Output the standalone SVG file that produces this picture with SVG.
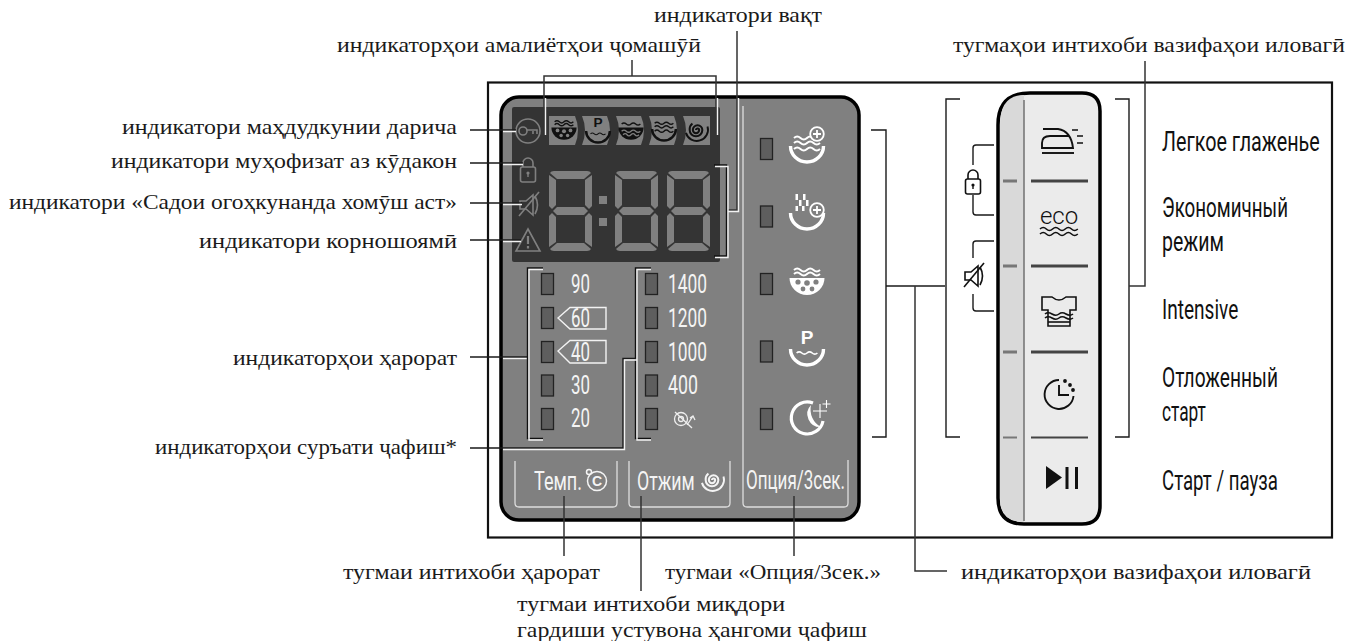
<svg xmlns="http://www.w3.org/2000/svg" xmlns:xlink="http://www.w3.org/1999/xlink" width="1350" height="641" viewBox="0 0 1350 641">
<style>
.s{font-family:"Liberation Serif","DejaVu Serif",serif;font-size:22px;fill:#1a1a1a}
.c{font-family:"Roboto","Liberation Sans",sans-serif;font-size:27px;fill:#111}
.p{font-family:"Roboto","Liberation Sans",sans-serif;font-size:25px;fill:#f4f4f4}
.k{fill:none;stroke:#1a1a1a;stroke-width:1.4}
.g{fill:none;stroke:#333;stroke-width:1.5}
.w{fill:none;stroke:#f2f2f2;stroke-width:1.4}
.d{fill:none;stroke:#111;stroke-width:1.4}
.led{fill:#5e5e5e;stroke:#222;stroke-width:1.3}
.btn{fill:none;stroke:#ddd;stroke-width:1.3}
.seg{fill:#808080}
.ic{fill:none;stroke:#808080;stroke-width:1.6}
.sep{stroke:#444;stroke-width:3}
.sepl{stroke:#777;stroke-width:3}
.t{fill:none;stroke:#111;stroke-width:1.6}
</style>
<defs>
<g id="digit" class="seg">
<path d="M5,0H38Q41,0 42,2L35,8H8L1,2Q2,0 5,0Z"/>
<path d="M0,4L7,9V34L3,38L0,35Z"/>
<path d="M43,4V35L40,38L36,34V9Z"/>
<path d="M4,40L8,36H35L39,40L35,44H8Z"/>
<path d="M0,45L3,42L7,46V71L0,76Z"/>
<path d="M43,45V76L36,71V46L40,42Z"/>
<path d="M8,72H35L42,78Q41,80 38,80H5Q2,80 1,78Z"/>
</g>
<path id="arc" d="M-16.500,0A16.500,16 0 0 0 16.500,0" fill="none" stroke="currentColor" stroke-width="3.400"/>
<path id="wave" d="M-13,0q3.200,-3 6.500,0t6.500,0t6.500,0t6.500,0" fill="none" stroke="currentColor" stroke-width="2"/>
<g id="i-dots">
<path d="M-17.500,-2A17.500,17 0 0 0 17.500,-2Z" fill="currentColor"/>
<use xlink:href="#wave" y="-6"/><use xlink:href="#wave" y="-10"/>
<g fill="#808080"><circle cx="-9" cy="2" r="2.600"/><circle cx="0" cy="3" r="2.800"/><circle cx="9" cy="2" r="2.600"/><circle cx="-4" cy="9" r="2.400"/><circle cx="5" cy="9" r="2.400"/></g>
</g>
<g id="i-p">
<use xlink:href="#arc"/>
<text x="0" y="-5" text-anchor="middle" font-family="Liberation Sans,sans-serif" font-weight="bold" font-size="19" fill="currentColor">P</text>
<use xlink:href="#wave" y="5" transform="scale(.8)"/>
</g>
<g id="i-wfill">
<path d="M-17.500,-2A17.500,17 0 0 0 17.500,-2Z" fill="currentColor"/>
<use xlink:href="#wave" y="-7"/>
<path d="M-13,3q3.200,-3 6.500,0t6.500,0t6.500,0t6.500,0" fill="none" stroke="#808080" stroke-width="1.800"/>
<path d="M-11,8q3,-3 5.500,0t5.500,0t5.500,0t5.500,0" fill="none" stroke="#808080" stroke-width="1.800"/>
</g>
<g id="i-wline">
<use xlink:href="#arc"/>
<use xlink:href="#wave" y="-8"/><use xlink:href="#wave" y="-3"/><use xlink:href="#wave" y="3"/>
</g>
<g id="i-spiral" fill="none" stroke="currentColor">
<path d="M0,0A2.200,2.200 0 0 1 4.400,0A4.400,4.400 0 0 1 -4.400,0A6.600,6.600 0 0 1 8.800,0A8.800,8.800 0 0 1 -8.800,0A10.500,10.500 0 0 1 -5,-9" stroke-width="2.800"/>
<path d="M-14,4A15,15 0 0 0 16,-5" stroke-width="2.600"/>
</g>
<g id="i-plus"><circle r="6.800" fill="#808080" stroke="#fff" stroke-width="1.800"/><path d="M-4,0H4M0,-4V4" stroke="#fff" stroke-width="1.800"/></g>
<g id="i-mute" fill="none" stroke="currentColor" stroke-width="1.600">
<path d="M-9,-4H-3L4,-10V10L-3,4H-9Z"/><path d="M-10,11L10,-13"/><path d="M6,-9Q11,0 6,9"/>
</g>
<g id="i-lock" fill="none" stroke="currentColor" stroke-width="1.600">
<rect x="-7.500" y="-4" width="15" height="15" rx="2"/><path d="M-5,-4V-8A5,5 0 0 1 5,-8V-4"/>
<circle cy="2" r="1.600" fill="currentColor" stroke="none"/><path d="M0,2V6" stroke-width="1.400"/>
</g>
</defs>
<rect width="1350" height="641" fill="#fff"/>
<rect id="frame" x="488" y="82.500" width="844" height="455" fill="none" stroke="#111" stroke-width="2.200"/>

<g id="panel">
<rect x="501" y="97" width="358" height="423" rx="18" fill="#808080" stroke="#000" stroke-width="3.500"/>
</g>
<g id="display">
<rect x="512" y="107" width="208" height="155" rx="2" fill="#343434"/>
<g class="seg">
<path d="M549,116H575Q581,130 575,145H549Z"/>
<path d="M582,116H607Q613,130 607,145H582Q588,130 582,116Z"/>
<path d="M616,116H641Q647,130 641,145H616Q622,130 616,116Z"/>
<path d="M649,116H674Q680,130 674,145H649Q655,130 649,116Z"/>
<path d="M683,116H710V145H683Q689,130 683,116Z"/>
</g>
<use xlink:href="#i-dots" transform="translate(564,129) scale(.72)" color="#111"/>
<use xlink:href="#i-p" transform="translate(598,131) scale(.72)" color="#111"/>
<use xlink:href="#i-wfill" transform="translate(631,129) scale(.72)" color="#111"/>
<use xlink:href="#i-wline" transform="translate(664,129) scale(.72)" color="#111"/>
<use xlink:href="#i-spiral" transform="translate(696,130) scale(.72)" color="#111"/>
<use xlink:href="#digit" x="549" y="171"/>
<use xlink:href="#digit" x="615" y="171"/>
<use xlink:href="#digit" x="667" y="171"/>
<rect class="seg" x="599" y="196" width="8" height="8"/>
<rect class="seg" x="599" y="218" width="8" height="8"/>
</g>
<g id="icon-key" class="ic">
<circle cx="528" cy="131" r="12"/><circle cx="523" cy="131" r="4"/><path d="M527,130H537V134M533,131V134"/>
</g>
<use id="icon-lock" xlink:href="#i-lock" transform="translate(528,171)" color="#808080"/>
<use id="icon-mute" xlink:href="#i-mute" transform="translate(529,205)" color="#808080"/>
<g id="icon-warn" class="ic">
<path d="M528,229L540,251H516Z"/><path d="M528,236V244M528,246V248.500" stroke-width="2.200"/>
</g>

<g id="temp-leds">
<rect class="led" x="541.500" y="273.500" width="12" height="21"/>
<rect class="led" x="541.500" y="307.500" width="12" height="21"/>
<rect class="led" x="541.500" y="341.500" width="12" height="21"/>
<rect class="led" x="541.500" y="375" width="12" height="21"/>
<rect class="led" x="541.500" y="408.500" width="12" height="21"/>
<text class="p" x="571" y="293" textLength="19" lengthAdjust="spacingAndGlyphs">90</text>
<path d="M558,318L570,307.500H606V329H570Z" class="w"/>
<text class="p" x="571" y="327" textLength="19" lengthAdjust="spacingAndGlyphs">60</text>
<path d="M558,351L570,340.500H606V363H570Z" class="w"/>
<text class="p" x="571" y="361" textLength="19" lengthAdjust="spacingAndGlyphs">40</text>
<text class="p" x="571" y="394" textLength="19" lengthAdjust="spacingAndGlyphs">30</text>
<text class="p" x="571" y="427" textLength="19" lengthAdjust="spacingAndGlyphs">20</text>
</g>
<g id="spin-leds">
<rect class="led" x="645.500" y="273.500" width="12" height="21"/>
<rect class="led" x="645.500" y="307.500" width="12" height="21"/>
<rect class="led" x="645.500" y="341.500" width="12" height="21"/>
<rect class="led" x="645.500" y="375" width="12" height="21"/>
<rect class="led" x="645.500" y="408.500" width="12" height="21"/>
<text class="p" x="668" y="293" textLength="39" lengthAdjust="spacingAndGlyphs">1400</text>
<text class="p" x="668" y="327" textLength="39" lengthAdjust="spacingAndGlyphs">1200</text>
<text class="p" x="668" y="361" textLength="39" lengthAdjust="spacingAndGlyphs">1000</text>
<text class="p" x="668" y="394" textLength="30" lengthAdjust="spacingAndGlyphs">400</text>
<g fill="none" stroke="#eee" stroke-width="1.300">
<circle cx="681" cy="419" r="6.500"/><circle cx="681" cy="419" r="2.500"/><path d="M675,412L692,428M687,425L693,416M690,418L693,416L695,420"/>
</g>
</g>
<g id="option-leds">
<rect class="led" x="760.500" y="138.500" width="12" height="21"/>
<rect class="led" x="760.500" y="206" width="12" height="21"/>
<rect class="led" x="760.500" y="273.500" width="12" height="21"/>
<rect class="led" x="760.500" y="341" width="12" height="21"/>
<rect class="led" x="760.500" y="408.500" width="12" height="21"/>
<g id="opt-icon-1"><use xlink:href="#i-wline" transform="translate(807,146)" color="#fff"/><use xlink:href="#i-plus" x="817" y="134"/></g>
<g id="opt-icon-2"><use xlink:href="#arc" x="807" y="213" color="#fff"/>
<g fill="#fff"><rect x="795.500" y="194" width="2.500" height="6"/><rect x="803" y="194" width="2.500" height="6"/><rect x="799" y="200" width="2.500" height="6"/><rect x="806" y="200" width="2.500" height="6"/><rect x="795.500" y="206" width="2.500" height="5"/><rect x="802" y="206" width="2.500" height="5"/></g>
<use xlink:href="#i-plus" x="817" y="210"/></g>
<use id="opt-icon-3" xlink:href="#i-dots" transform="translate(807,280)" color="#fff"/>
<use id="opt-icon-4" xlink:href="#i-p" transform="translate(807,349)" color="#fff"/>
<g id="opt-icon-5">
<path d="M813,403A16,16 0 1 0 823,421" fill="none" stroke="#fff" stroke-width="3.200"/>
<path d="M811,405A13,13 0 0 0 821,427A20,20 0 0 1 811,405Z" fill="#fff"/>
<path d="M820,404V418M813,411H827M826.500,400V408M822.500,404H830.500" stroke="#fff" stroke-width="1.100"/>
</g>
</g>
<g id="buttons-panel">
<path class="btn" d="M515,461V503Q515,507 519,507H613Q617,507 617,503V461"/>
<path class="btn" d="M629,461V503Q629,507 633,507H726Q730,507 730,503V461"/>
<path class="btn" d="M743,106V503Q743,507 747,507H844Q848,507 848,503V460"/>
<text class="p" x="0" y="0" transform="translate(534,490) scale(.75,1)" textLength="64" lengthAdjust="spacingAndGlyphs">Темп.</text>
<g fill="none" stroke="#f4f4f4" stroke-width="1.500"><circle cx="597" cy="481" r="9.500"/><circle cx="589" cy="472" r="2.500"/></g>
<text x="597" y="486" text-anchor="middle" font-family="Liberation Sans,sans-serif" font-size="14" font-weight="bold" fill="#f4f4f4">C</text>
<text class="p" x="0" y="0" transform="translate(637,490) scale(.75,1)" textLength="77" lengthAdjust="spacingAndGlyphs">Отжим</text>
<use xlink:href="#i-spiral" transform="translate(712,480) scale(.72)" color="#f4f4f4"/>
<text class="p" x="0" y="0" transform="translate(746,489) scale(.75,1)" textLength="132" lengthAdjust="spacingAndGlyphs">Опция/3сек.</text>
</g>

<g id="button-strip">
<path d="M998,125Q998,93 1030,93H1082Q1100,93 1100,111V506Q1100,524 1082,524H1024Q998,524 998,498Z" fill="#ebebeb" stroke="#000" stroke-width="3.500"/>
<path d="M1000,125Q1000,95 1024,95V522Q1000,522 1000,498Z" fill="#d9d9d9"/>
<path d="M1024,100V521" stroke="#707070" stroke-width="1.500"/>
<g class="sepl"><path d="M1003,181H1017M1003,266H1017M1003,352H1017"/><path d="M1003,437.500H1017" stroke-width="2"/></g>
<g class="sep"><path d="M1031,181H1088M1031,266H1088M1031,352H1088"/><path d="M1031,437.500H1088" stroke-width="2"/></g>
<g id="btn-iron" class="t">
<path d="M1043,129H1058Q1071,131 1073,148H1042V143Q1042,136 1050,136H1069" stroke-width="1.900"/><path d="M1042,153H1074" stroke-width="1.900"/><path d="M1072,130H1078M1077,136H1083M1077,143H1083"/>
</g>
<g id="btn-eco">
<text x="1059" y="224" text-anchor="middle" font-family="Roboto,Liberation Sans,sans-serif" font-size="24" font-weight="300" fill="#111">eco</text>
<path class="t" d="M1040,229q3.200,-3 6.300,0t6.300,0t6.300,0t6.300,0t6.300,0t6.300,0M1040,234q3.200,-3 6.300,0t6.300,0t6.300,0t6.300,0t6.300,0t6.300,0"/>
</g>
<g id="btn-shirt" class="t" stroke-width="1.800">
<path d="M1042,297H1052Q1059,303 1066,297H1076V310H1070V326H1048V310H1042Z" fill="none"/><path d="M1045,314q3,-2.500 7,0t7,0t7,0t7,0M1045,318q3,-2.500 7,0t7,0t7,0t7,0"/><path d="M1048,322H1070"/>
</g>
<g id="btn-clock" class="t">
<path d="M1059,380A14.500,14.500 0 1 0 1073.500,396" stroke-width="1.900"/><path d="M1059,385V395H1069" stroke-width="1.900"/>
<circle cx="1065" cy="381" r="1.100" fill="#111"/><circle cx="1070" cy="385" r="1.100" fill="#111"/><circle cx="1073" cy="390" r="1.100" fill="#111"/>
</g>
<g id="btn-play" fill="#111">
<path d="M1046,466L1062,477.500L1046,489Z"/><rect x="1065.500" y="467" width="3" height="22"/><rect x="1075" y="467" width="3" height="22"/>
</g>
</g>
<g id="left-icons">
<path class="k" d="M994,145H976Q973,145 973,148V165M973,195V212Q973,215 976,215H994"/>
<use xlink:href="#i-lock" transform="translate(973,183)" color="#111"/>
<path class="k" d="M994,241H976Q973,241 973,244V258M973,294V308Q973,311 976,311H994"/>
<use xlink:href="#i-mute" transform="translate(974,276)" color="#111"/>
</g>

<g id="connectors">
<path class="g" d="M632,60V76M544,135V76H716V135"/>
<path class="w" d="M545.500,135V98M717.500,135V98"/>
<path class="g" d="M737,31V210H728"/>
<path class="w" d="M738.500,98V211.500H728"/>
<path class="d" d="M714,165H726.500V256H714"/>
<path class="w" d="M715,166.500H728V257.500H715"/>
<path class="k" d="M470,130H516M470,163H523M470,203H522M470,240H521"/>
<path class="w" d="M503,131.500H516M503,164.500H523M503,204.500H522M503,241.500H521" stroke-width="1"/>
<path class="k" d="M470,357H527"/>
<path class="w" d="M503,358.500H528" stroke-width="1"/>
<path class="d" d="M543,268H527.500V438.500H543"/>
<path class="w" d="M543,269.500H529V440H543"/>
<path class="d" d="M651,268H635.500V438.500H651"/>
<path class="w" d="M651,269.500H637V440H651"/>
<path class="k" d="M470,448H623V358.500H636"/>
<path class="w" d="M503,449.500H624.500V360H637" stroke-width="1"/>
<path class="g" d="M564,496V556M641,496V591M794,496V556"/>
<path class="k" d="M871,130H886V437H872"/>
<path class="k" d="M886,286H945"/>
<path class="g" d="M915,286V571H947"/>
<path class="k" d="M960,99H946V437H960"/>
<path class="k" d="M1115,99H1129V437H1115"/>
<path class="g" d="M1129,286H1145V61"/>
</g>

<g id="labels">
<text class="s" x="654" y="22" textLength="168" lengthAdjust="spacingAndGlyphs">индикатори вақт</text>
<text class="s" x="337" y="52" textLength="364" lengthAdjust="spacingAndGlyphs">индикаторҳои амалиётҳои ҷомашӯӣ</text>
<text class="s" x="953" y="52" textLength="392" lengthAdjust="spacingAndGlyphs">тугмаҳои интихоби вазифаҳои иловагӣ</text>
<text class="s" x="122" y="134" textLength="335" lengthAdjust="spacingAndGlyphs">индикатори маҳдудкунии дарича</text>
<text class="s" x="111" y="168" textLength="346" lengthAdjust="spacingAndGlyphs">индикатори муҳофизат аз кӯдакон</text>
<text class="s" x="9" y="209" textLength="448" lengthAdjust="spacingAndGlyphs">индикатори «Садои огоҳкунанда хомӯш аст»</text>
<text class="s" x="199" y="248" textLength="258" lengthAdjust="spacingAndGlyphs">индикатори корношоямӣ</text>
<text class="s" x="233" y="365" textLength="224" lengthAdjust="spacingAndGlyphs">индикаторҳои ҳарорат</text>
<text class="s" x="155" y="454" textLength="302" lengthAdjust="spacingAndGlyphs">индикаторҳои суръати ҷафиш*</text>
<text class="s" x="343" y="579" textLength="257" lengthAdjust="spacingAndGlyphs">тугмаи интихоби ҳарорат</text>
<text class="s" x="665" y="579" textLength="216" lengthAdjust="spacingAndGlyphs">тугмаи «Опция/3сек.»</text>
<text class="s" x="961" y="579" textLength="350" lengthAdjust="spacingAndGlyphs">индикаторҳои вазифаҳои иловагӣ</text>
<text class="s" x="517" y="611" textLength="268" lengthAdjust="spacingAndGlyphs">тугмаи интихоби миқдори</text>
<text class="s" x="517" y="637" textLength="350" lengthAdjust="spacingAndGlyphs">гардиши устувона ҳангоми ҷафиш</text>
<text class="c" x="0" y="0" transform="translate(1162,151) scale(.72,1)" textLength="219" lengthAdjust="spacingAndGlyphs">Легкое глаженье</text>
<text class="c" x="0" y="0" transform="translate(1162,217) scale(.72,1)" textLength="175" lengthAdjust="spacingAndGlyphs">Экономичный</text>
<text class="c" x="0" y="0" transform="translate(1162,251) scale(.72,1)" textLength="86" lengthAdjust="spacingAndGlyphs">режим</text>
<text class="c" x="0" y="0" transform="translate(1162,319) scale(.72,1)" textLength="106" lengthAdjust="spacingAndGlyphs">Intensive</text>
<text class="c" x="0" y="0" transform="translate(1162,387) scale(.72,1)" textLength="161" lengthAdjust="spacingAndGlyphs">Отложенный</text>
<text class="c" x="0" y="0" transform="translate(1162,421) scale(.72,1)" textLength="61" lengthAdjust="spacingAndGlyphs">старт</text>
<text class="c" x="0" y="0" transform="translate(1162,490) scale(.72,1)" textLength="161" lengthAdjust="spacingAndGlyphs">Старт / пауза</text>
</g>
</svg>
